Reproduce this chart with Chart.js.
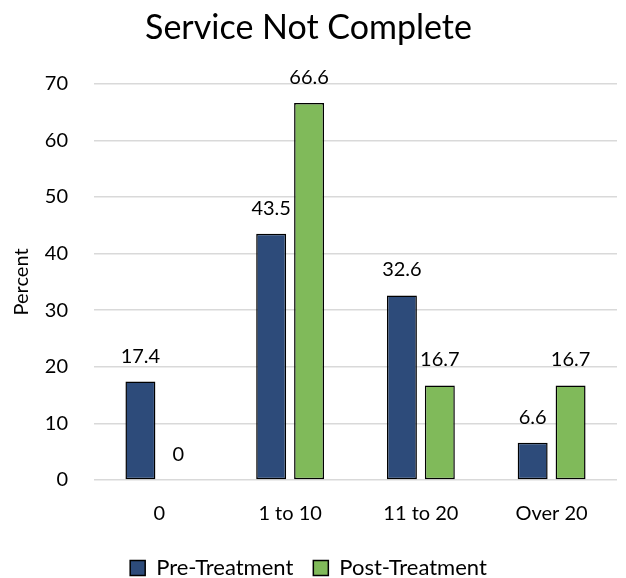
<!DOCTYPE html>
<html>
<head>
<meta charset="utf-8">
<script src="https://cdn.jsdelivr.net/npm/chart.js@4.4.0/dist/chart.umd.min.js"></script>
<style>
    html, body { margin: 0; padding: 0; background: #fff; }
    #wrap { width: 626px; height: 578px; }
</style>
</head>
<body>
<div id="wrap"><canvas id="serviceChart" width="626" height="578"></canvas></div>
<script>
// Dữ liệu biểu đồ
const categories = ['0', '1 to 10', '11 to 20', 'Over 20'];
const preTreatment = [17.4, 43.5, 32.6, 6.6];
const postTreatment = [0, 66.6, 16.7, 16.7];
const seriesNames = ['Pre-Treatment', 'Post-Treatment'];
const yTicks = [0, 10, 20, 30, 40, 50, 60, 70];

const FONT = 'Lato, "Open Sans", sans-serif';

(function () {
    // Vẽ nhãn giá trị phía trên mỗi cột
    const valueLabels = {
        id: 'valueLabels',
        afterDatasetsDraw: function (chart) {
            const ctx = chart.ctx;
            ctx.save();
            ctx.font = '20px ' + FONT;
            ctx.fillStyle = '#000';
            ctx.textAlign = 'center';
            ctx.textBaseline = 'alphabetic';
            chart.data.datasets.forEach(function (ds, i) {
                const meta = chart.getDatasetMeta(i);
                meta.data.forEach(function (bar, j) {
                    ctx.fillText(String(ds.data[j]), bar.x, bar.y - 19);
                });
            });
            ctx.restore();
        }
    };

    // Thu gọn chiều cao chú giải để đẩy nó xuống sát đáy
    const legendShift = {
        id: 'legendShift',
        beforeInit: function (chart) {
            const legend = chart.legend;
            if (!legend) return;
            const origFit = legend.fit;
            legend.fit = function () {
                origFit.call(this);
                this.height -= 11;
            };
        }
    };

    const ctx = document.getElementById('serviceChart').getContext('2d');
    new Chart(ctx, {
        type: 'bar',
        data: {
            labels: categories,
            datasets: [{
                label: seriesNames[0],
                data: preTreatment,
                backgroundColor: '#2D4B7A',
                borderColor: '#000',
                borderWidth: 1.5,
                borderSkipped: false,
                categoryPercentage: 0.58,
                barPercentage: 0.79
            }, {
                label: seriesNames[1],
                data: postTreatment,
                backgroundColor: '#80BA5A',
                borderColor: '#000',
                borderWidth: 1.5,
                borderSkipped: false,
                categoryPercentage: 0.58,
                barPercentage: 0.79
            }]
        },
        options: {
            responsive: false,
            animation: false,
            layout: { padding: { left: 0, right: 9, top: 8, bottom: 0 } },
            plugins: {
                title: {
                    display: true,
                    text: 'Service Not Complete',
                    color: '#000',
                    font: { family: FONT, size: 34, weight: 'normal' },
                    padding: { top: 0, bottom: 35 }
                },
                legend: {
                    position: 'bottom',
                    labels: {
                        color: '#000',
                        font: { family: FONT, size: 22 },
                        boxWidth: 15,
                        boxHeight: 15,
                        padding: 20,
                        generateLabels: function (chart) {
                            return chart.data.datasets.map(function (ds, i) {
                                return {
                                    text: ds.label,
                                    fillStyle: ds.backgroundColor,
                                    strokeStyle: '#000',
                                    lineWidth: 1.5,
                                    datasetIndex: i
                                };
                            });
                        }
                    }
                },
                tooltip: { enabled: false }
            },
            scales: {
                x: {
                    grid: { display: false },
                    border: { display: false },
                    ticks: {
                        color: '#000',
                        font: { family: FONT, size: 20 },
                        padding: 14
                    },
                    afterFit: function (scale) { scale.height = 57; }
                },
                y: {
                    min: 0,
                    max: 70,
                    afterBuildTicks: function (scale) {
                        scale.ticks = yTicks.map(function (v) { return { value: v }; });
                    },
                    grid: { color: '#D9D9D9', lineWidth: 1.5, drawTicks: false },
                    border: { display: false },
                    ticks: {
                        color: '#000',
                        font: { family: FONT, size: 20 },
                        padding: 26
                    },
                    title: {
                        display: true,
                        text: 'Percent',
                        color: '#000',
                        font: { family: FONT, size: 20 },
                        padding: { top: 10, bottom: 0 }
                    },
                    afterFit: function (scale) { scale.width = 94; }
                }
            }
        },
        plugins: [valueLabels, legendShift]
    });
})();
</script>
</body>
</html>
